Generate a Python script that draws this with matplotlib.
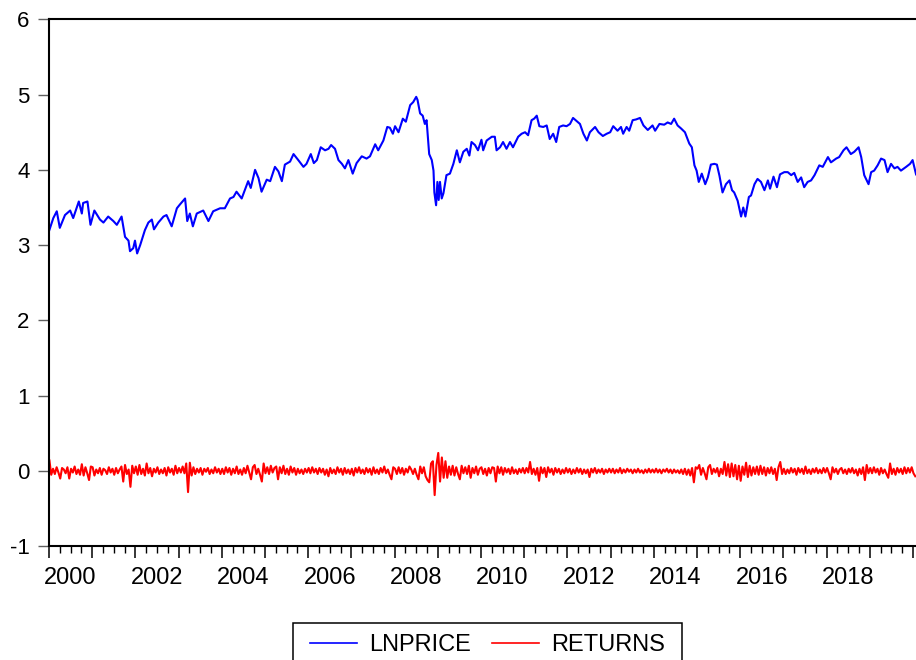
import numpy as np
import matplotlib
matplotlib.use("Agg")
import matplotlib.pyplot as plt
from matplotlib.lines import Line2D
from matplotlib.patches import Rectangle

plt.rcParams['font.family'] = ['Liberation Sans', 'DejaVu Sans']

# ---------------- data ----------------
price_t = [
    2000.008, 2000.10, 2000.18, 2000.25, 2000.37, 2000.49, 2000.56, 2000.69, 2000.76, 2000.79,
    2000.89, 2000.96, 2001.05, 2001.18, 2001.26, 2001.37, 2001.49, 2001.57, 2001.68, 2001.76,
    2001.84, 2001.875, 2001.95, 2001.99, 2002.04, 2002.11, 2002.22, 2002.30, 2002.38, 2002.43,
    2002.53, 2002.65, 2002.72, 2002.84, 2002.96, 2003.03, 2003.15, 2003.20, 2003.26, 2003.33,
    2003.42, 2003.57, 2003.69, 2003.80, 2003.96, 2004.07, 2004.19, 2004.27, 2004.34, 2004.46,
    2004.61, 2004.67, 2004.77, 2004.85, 2004.92, 2005.04, 2005.12, 2005.23, 2005.31, 2005.39,
    2005.46, 2005.58, 2005.66, 2005.77, 2005.89, 2005.96, 2006.06, 2006.13, 2006.20, 2006.29,
    2006.39, 2006.47, 2006.53, 2006.62, 2006.70, 2006.78, 2006.85, 2006.93, 2007.03, 2007.12,
    2007.24, 2007.35, 2007.43, 2007.55, 2007.62, 2007.74, 2007.83, 2007.89, 2007.96, 2008.01,
    2008.09, 2008.19, 2008.26, 2008.36, 2008.43, 2008.50, 2008.53, 2008.59, 2008.65, 2008.70,
    2008.74, 2008.80, 2008.86, 2008.90, 2008.92, 2008.96, 2008.99, 2009.02, 2009.05, 2009.09,
    2009.13, 2009.20, 2009.28, 2009.36, 2009.44, 2009.51, 2009.59, 2009.67, 2009.73, 2009.78,
    2009.86, 2009.93, 2010.01, 2010.05, 2010.13, 2010.25, 2010.32, 2010.36, 2010.44, 2010.51,
    2010.59, 2010.67, 2010.74, 2010.86, 2010.94, 2011.02, 2011.09, 2011.17, 2011.23, 2011.29,
    2011.35, 2011.44, 2011.52, 2011.59, 2011.67, 2011.74, 2011.81, 2011.90, 2011.98, 2012.06,
    2012.13, 2012.21, 2012.29, 2012.37, 2012.45, 2012.52, 2012.64, 2012.72, 2012.82, 2012.91,
    2012.99, 2013.06, 2013.16, 2013.24, 2013.29, 2013.37, 2013.43, 2013.51, 2013.59, 2013.68,
    2013.76, 2013.86, 2013.97, 2014.03, 2014.13, 2014.24, 2014.32, 2014.40, 2014.47, 2014.55,
    2014.63, 2014.72, 2014.82, 2014.88, 2014.94, 2014.99, 2015.04, 2015.11, 2015.19, 2015.25,
    2015.32, 2015.40, 2015.46, 2015.52, 2015.59, 2015.67, 2015.75, 2015.81, 2015.86, 2015.94,
    2016.02, 2016.07, 2016.12, 2016.20, 2016.25, 2016.33, 2016.40, 2016.48, 2016.56, 2016.64,
    2016.69, 2016.77, 2016.85, 2016.92, 2017.02, 2017.10, 2017.18, 2017.25, 2017.33, 2017.41,
    2017.48, 2017.56, 2017.64, 2017.72, 2017.83, 2017.91, 2018.03, 2018.10, 2018.22, 2018.29,
    2018.39, 2018.46, 2018.56, 2018.64, 2018.74, 2018.80, 2018.87, 2018.97, 2019.03, 2019.10,
    2019.18, 2019.26, 2019.34, 2019.41, 2019.49, 2019.57, 2019.64, 2019.72, 2019.84, 2019.93,
    2019.99, 2020.07,
]
lnprice = [
    3.20, 3.36, 3.45, 3.23, 3.40, 3.46, 3.36, 3.58, 3.42, 3.56,
    3.58, 3.27, 3.46, 3.34, 3.30, 3.38, 3.32, 3.27, 3.38, 3.11,
    3.06, 2.92, 2.96, 3.06, 2.89, 3.00, 3.20, 3.30, 3.34, 3.21,
    3.30, 3.38, 3.40, 3.25, 3.49, 3.54, 3.62, 3.32, 3.42, 3.25,
    3.42, 3.46, 3.32, 3.45, 3.49, 3.49, 3.62, 3.64, 3.71, 3.62,
    3.85, 3.76, 4.00, 3.89, 3.71, 3.87, 3.85, 4.04, 3.98, 3.85,
    4.07, 4.11, 4.21, 4.13, 4.04, 4.08, 4.21, 4.09, 4.13, 4.30,
    4.26, 4.28, 4.33, 4.28, 4.13, 4.08, 4.02, 4.13, 3.95, 4.09,
    4.18, 4.15, 4.18, 4.34, 4.26, 4.39, 4.57, 4.56, 4.48, 4.58,
    4.50, 4.68, 4.64, 4.86, 4.90, 4.97, 4.93, 4.75, 4.72, 4.61,
    4.66, 4.21, 4.13, 3.99, 3.70, 3.53, 3.84, 3.60, 3.84, 3.62,
    3.69, 3.93, 3.95, 4.08, 4.26, 4.10, 4.24, 4.28, 4.19, 4.37,
    4.33, 4.26, 4.40, 4.26, 4.39, 4.44, 4.44, 4.26, 4.30, 4.37,
    4.28, 4.37, 4.30, 4.44, 4.48, 4.50, 4.46, 4.66, 4.68, 4.72,
    4.58, 4.57, 4.59, 4.41, 4.48, 4.37, 4.57, 4.59, 4.58, 4.61,
    4.69, 4.65, 4.61, 4.48, 4.39, 4.50, 4.57, 4.50, 4.45, 4.48,
    4.50, 4.58, 4.52, 4.57, 4.48, 4.57, 4.52, 4.66, 4.67, 4.69,
    4.59, 4.53, 4.59, 4.52, 4.61, 4.60, 4.63, 4.61, 4.68, 4.59,
    4.55, 4.50, 4.35, 4.30, 4.06, 3.99, 3.84, 3.95, 3.81, 3.90,
    4.07, 4.08, 4.07, 3.92, 3.70, 3.81, 3.86, 3.73, 3.70, 3.59,
    3.38, 3.50, 3.38, 3.64, 3.66, 3.81, 3.88, 3.84, 3.73, 3.86,
    3.75, 3.91, 3.77, 3.94, 3.97, 3.97, 3.93, 3.96, 3.84, 3.90,
    3.77, 3.84, 3.86, 3.93, 4.06, 4.04, 4.17, 4.10, 4.15, 4.17,
    4.26, 4.30, 4.21, 4.24, 4.30, 4.17, 3.93, 3.81, 3.97, 3.99,
    4.06, 4.15, 4.13, 3.97, 4.08, 4.02, 4.04, 3.99, 4.04, 4.08,
    4.13, 3.94,
]

# returns, two readings per month (Jan 2000 .. Jan 2020)
returns = [
    # 2000
    0.14, -0.05, 0.03, -0.04, 0.05, -0.02, -0.10, 0.04, 0.02, -0.03, 0.05, -0.10,
    0.03, -0.02, 0.06, -0.04, 0.02, -0.05, 0.09, -0.06, 0.05, -0.03, -0.12, 0.06,
    # 2001
    0.05, -0.06, 0.02, -0.03, 0.04, -0.05, 0.03, 0.01, -0.04, 0.05, -0.02, 0.03,
    -0.05, 0.04, -0.03, 0.02, 0.06, -0.14, 0.08, -0.04, 0.02, -0.21, 0.07, -0.03,
    # 2002
    0.06, -0.05, 0.08, -0.04, 0.03, -0.06, 0.10, -0.03, 0.04, -0.07, 0.03, -0.02,
    0.05, -0.04, 0.02, -0.03, 0.04, -0.06, 0.05, -0.02, 0.03, -0.05, 0.07, -0.03,
    # 2003
    0.04, -0.02, 0.06, -0.03, 0.10, -0.28, 0.11, -0.06, 0.05, -0.04, 0.03, -0.02,
    0.04, -0.05, 0.03, -0.01, 0.04, -0.04, 0.02, -0.03, 0.05, -0.02, 0.03, -0.04,
    # 2004
    0.03, -0.04, 0.05, -0.02, 0.04, -0.05, 0.03, -0.03, 0.06, -0.04, 0.02, -0.05,
    0.04, -0.03, 0.07, -0.02, -0.11, 0.05, 0.08, -0.04, 0.03, -0.05, -0.14, 0.10,
    # 2005
    -0.03, 0.05, -0.04, 0.07, -0.02, 0.04, 0.06, -0.11, 0.05, -0.03, 0.07, -0.04,
    0.03, -0.05, 0.06, -0.02, 0.04, -0.05, 0.03, -0.03, 0.02, -0.04, 0.03, -0.02,
    # 2006
    0.04, -0.03, 0.05, -0.02, 0.03, -0.04, 0.04, -0.02, 0.03, -0.05, 0.02, -0.07,
    0.04, -0.03, 0.02, -0.04, 0.05, -0.02, 0.03, -0.05, 0.04, -0.03, 0.02, -0.04,
    # 2007
    0.03, -0.06, 0.04, -0.02, 0.05, -0.03, 0.02, -0.04, 0.04, -0.02, 0.03, -0.05,
    0.05, -0.03, 0.02, -0.04, 0.04, -0.02, 0.06, -0.03, 0.02, -0.05, -0.11, 0.05,
    # 2008
    0.03, -0.04, 0.05, -0.03, 0.04, -0.05, 0.03, -0.02, 0.06, 0.02, -0.04, 0.03,
    -0.05, -0.11, 0.06, -0.03, 0.05, -0.07, -0.12, -0.15, 0.10, 0.13, -0.32, 0.08,
    # 2009
    0.24, -0.14, 0.18, -0.09, 0.13, -0.09, 0.06, -0.05, 0.07, -0.06, 0.05, -0.04,
    -0.11, 0.07, -0.03, 0.05, -0.04, 0.07, -0.09, 0.04, -0.03, 0.06, -0.05, 0.03,
    # 2010
    0.05, -0.04, 0.03, -0.06, 0.04, -0.03, 0.05, 0.04, -0.14, 0.06, -0.03, 0.05,
    -0.05, 0.04, -0.02, 0.03, -0.04, 0.05, -0.03, 0.02, -0.04, 0.03, -0.02, 0.04,
    # 2011
    -0.03, 0.04, -0.02, 0.12, -0.04, 0.03, -0.05, 0.04, -0.13, 0.05, -0.03, 0.04,
    -0.08, 0.05, -0.02, 0.03, -0.05, 0.04, -0.02, 0.03, -0.04, 0.02, -0.03, 0.04,
    # 2012
    -0.02, 0.03, -0.04, 0.02, -0.03, 0.04, -0.02, 0.03, -0.04, 0.02, -0.03, 0.02,
    -0.08, 0.03, -0.02, 0.04, -0.03, 0.02, -0.02, 0.03, -0.04, 0.02, -0.02, 0.03,
    # 2013
    -0.02, 0.03, -0.03, 0.02, -0.02, 0.04, -0.03, 0.02, -0.02, 0.03, -0.01, 0.02,
    -0.03, 0.02, -0.02, 0.03, -0.02, 0.01, -0.03, 0.02, -0.02, 0.03, -0.02, 0.02,
    # 2014
    -0.02, 0.03, -0.02, 0.02, -0.03, 0.02, -0.01, 0.03, -0.02, 0.02, -0.03, 0.02,
    -0.02, 0.01, -0.03, 0.02, -0.04, 0.03, -0.05, 0.02, -0.06, 0.04, -0.15, 0.05,
    # 2015
    0.03, 0.08, -0.05, 0.04, -0.03, -0.11, 0.05, 0.08, -0.04, 0.03, -0.02, 0.04,
    -0.07, 0.03, -0.04, 0.12, -0.06, 0.09, -0.08, 0.10, -0.07, 0.08, -0.11, 0.07,
    # 2016
    -0.13, 0.06, -0.05, 0.11, -0.08, 0.07, -0.06, 0.05, -0.04, 0.06, -0.05, 0.07,
    -0.04, 0.05, -0.06, 0.04, -0.03, 0.05, -0.04, 0.03, -0.12, 0.05, 0.12, -0.04,
    # 2017
    0.03, -0.04, 0.02, -0.03, 0.04, -0.02, 0.03, -0.05, 0.04, -0.02, 0.03, -0.04,
    0.06, -0.03, 0.02, -0.04, 0.03, -0.02, 0.04, -0.03, 0.02, -0.03, 0.04, -0.02,
    # 2018
    0.04, -0.03, -0.11, 0.05, -0.02, 0.03, -0.04, 0.02, 0.04, -0.03, 0.02, -0.04,
    0.03, -0.02, 0.04, -0.03, 0.02, -0.06, 0.03, -0.04, 0.05, -0.12, 0.08, -0.03,
    # 2019
    0.04, -0.03, 0.05, -0.02, 0.03, -0.05, 0.04, -0.03, 0.02, -0.04, -0.09, 0.10,
    -0.04, 0.03, -0.05, 0.04, -0.02, 0.03, -0.04, 0.05, -0.03, 0.04, -0.02, 0.05,
    # 2020
    -0.03, -0.07,
]
returns_t = 2000.01 + np.arange(len(returns)) / 24.0

series_names = ["LNPRICE", "RETURNS"]
series_colors = ["#0000FF", "#FF0000"]
y_ticks = [-1, 0, 1, 2, 3, 4, 5, 6]
year_first, year_last = 2000, 2020
label_years = list(range(2000, 2020, 2))

# ---------------- figure ----------------
W, H = 916, 660
fig = plt.figure(figsize=(W / 100, H / 100), dpi=100)
ax = fig.add_axes([49 / W, (H - 546.3) / H, 867.5 / W, (546.3 - 19.3) / H])

ax.plot(price_t, lnprice, color=series_colors[0], lw=1.5)
ax.plot(returns_t, returns, color=series_colors[1], lw=1.5)

ax.set_xlim(2000, 2020.08)
ax.set_ylim(-1, 6)

# y axis
ax.set_yticks(y_ticks)
ax.set_yticklabels([str(v) for v in y_ticks])
ax.tick_params(axis='y', direction='out', length=8, width=1.0, color='#606060',
               labelsize=16, pad=6)

# x axis: long ticks at years, short ticks at quarters, labels mid-year
ax.set_xticks(list(range(year_first, year_last + 1)))
ax.set_xticklabels([])
minor_pos, minor_lab = [], []
for y in range(year_first, year_last):
    for q in (0.25, 0.5, 0.75):
        minor_pos.append(y + q)
        minor_lab.append(str(y) if (q == 0.5 and y in label_years) else '')
ax.set_xticks(minor_pos, minor=True)
ax.set_xticklabels(minor_lab, minor=True)
ax.tick_params(axis='x', which='major', direction='out', length=8.3, width=1.1, color='black')
ax.tick_params(axis='x', which='minor', direction='out', length=4.8, width=1.0, color='black',
               labelsize=17, pad=10)

for side in ('left', 'bottom', 'top'):
    ax.spines[side].set_linewidth(1.5)
    ax.spines[side].set_color('black')
ax.spines['right'].set_visible(False)

# legend (entries) + its frame drawn as a plain box
handles = [Line2D([], [], color=c, lw=1.2) for c in series_colors]
fig.legend(handles, series_names, loc='upper center', ncol=2,
           bbox_to_anchor=((293 + 682) / 2 / W, 1 - 625 / H),
           frameon=False, fontsize=17,
           handlelength=2.0, handletextpad=0.5, columnspacing=0.9,
           borderpad=0.4, borderaxespad=0)
fig.patches.append(Rectangle((293 / W, 0.0 - 5 / H), (682 - 293) / W, (660 + 5 - 623) / H,
                             transform=fig.transFigure, fill=False,
                             edgecolor='black', linewidth=1.1))

fig.savefig("out.png", dpi=100)
